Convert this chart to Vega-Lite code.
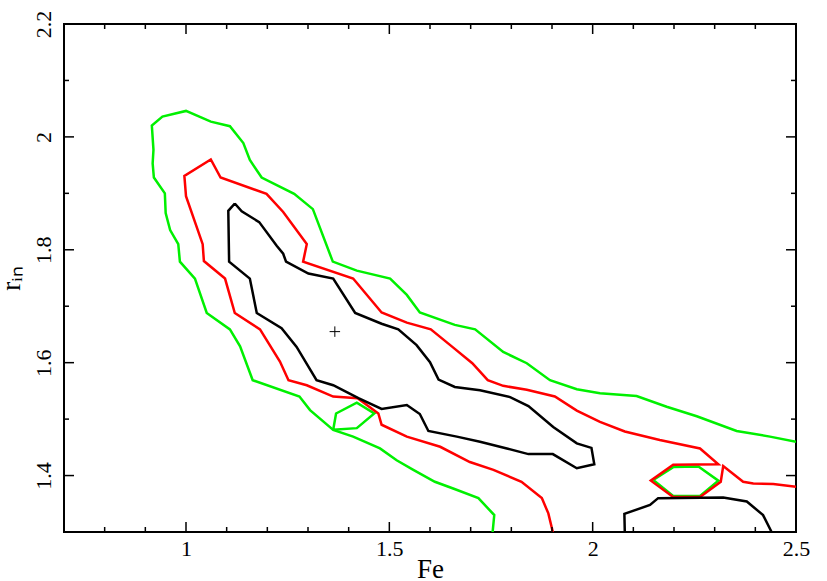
{
  "$schema": "https://vega.github.io/schema/vega-lite/v6.json",
  "width": 732,
  "height": 508,
  "autosize": {"type": "none"},
  "padding": {"left": 64, "top": 24, "right": 31, "bottom": 49},
  "background": "white",
  "config": {
    "view": {"stroke": "black", "strokeWidth": 2}
  },
  "datasets": {
    "best": [{"x": 1.366, "y": 1.655}],
    "xticks": [
      {"v": 0.8, "kind": "minor"}, {"v": 0.9, "kind": "minor"}, {"v": 1.0, "kind": "major"},
      {"v": 1.1, "kind": "minor"}, {"v": 1.2, "kind": "minor"}, {"v": 1.3, "kind": "minor"},
      {"v": 1.4, "kind": "minor"}, {"v": 1.5, "kind": "major"}, {"v": 1.6, "kind": "minor"},
      {"v": 1.7, "kind": "minor"}, {"v": 1.8, "kind": "minor"}, {"v": 1.9, "kind": "minor"},
      {"v": 2.0, "kind": "major"}, {"v": 2.1, "kind": "minor"}, {"v": 2.2, "kind": "minor"},
      {"v": 2.3, "kind": "minor"}, {"v": 2.4, "kind": "minor"}
    ],
    "yticks": [
      {"v": 1.4, "kind": "major"}, {"v": 1.5, "kind": "minor"}, {"v": 1.6, "kind": "major"},
      {"v": 1.7, "kind": "minor"}, {"v": 1.8, "kind": "major"}, {"v": 1.9, "kind": "minor"},
      {"v": 2.0, "kind": "major"}, {"v": 2.1, "kind": "minor"}
    ],
    "contours": [
      {"s": "g", "k": "green", "i": 0, "x": 1.754, "y": 1.300},
      {"s": "g", "k": "green", "i": 1, "x": 1.758, "y": 1.330},
      {"s": "g", "k": "green", "i": 2, "x": 1.719, "y": 1.360},
      {"s": "g", "k": "green", "i": 3, "x": 1.657, "y": 1.377},
      {"s": "g", "k": "green", "i": 4, "x": 1.612, "y": 1.389},
      {"s": "g", "k": "green", "i": 5, "x": 1.559, "y": 1.410},
      {"s": "g", "k": "green", "i": 6, "x": 1.518, "y": 1.427},
      {"s": "g", "k": "green", "i": 7, "x": 1.477, "y": 1.448},
      {"s": "g", "k": "green", "i": 8, "x": 1.411, "y": 1.469},
      {"s": "g", "k": "green", "i": 9, "x": 1.362, "y": 1.481},
      {"s": "g", "k": "green", "i": 10, "x": 1.305, "y": 1.516},
      {"s": "g", "k": "green", "i": 11, "x": 1.279, "y": 1.540},
      {"s": "g", "k": "green", "i": 12, "x": 1.164, "y": 1.569},
      {"s": "g", "k": "green", "i": 13, "x": 1.133, "y": 1.629},
      {"s": "g", "k": "green", "i": 14, "x": 1.108, "y": 1.659},
      {"s": "g", "k": "green", "i": 15, "x": 1.051, "y": 1.688},
      {"s": "g", "k": "green", "i": 16, "x": 1.022, "y": 1.749},
      {"s": "g", "k": "green", "i": 17, "x": 0.985, "y": 1.779},
      {"s": "g", "k": "green", "i": 18, "x": 0.981, "y": 1.810},
      {"s": "g", "k": "green", "i": 19, "x": 0.961, "y": 1.835},
      {"s": "g", "k": "green", "i": 20, "x": 0.950, "y": 1.865},
      {"s": "g", "k": "green", "i": 21, "x": 0.948, "y": 1.900},
      {"s": "g", "k": "green", "i": 22, "x": 0.921, "y": 1.928},
      {"s": "g", "k": "green", "i": 23, "x": 0.918, "y": 1.953},
      {"s": "g", "k": "green", "i": 24, "x": 0.920, "y": 1.977},
      {"s": "g", "k": "green", "i": 25, "x": 0.916, "y": 2.020},
      {"s": "g", "k": "green", "i": 26, "x": 0.942, "y": 2.036},
      {"s": "g", "k": "green", "i": 27, "x": 1.000, "y": 2.046},
      {"s": "g", "k": "green", "i": 28, "x": 1.061, "y": 2.027},
      {"s": "g", "k": "green", "i": 29, "x": 1.108, "y": 2.019},
      {"s": "g", "k": "green", "i": 30, "x": 1.141, "y": 1.989},
      {"s": "g", "k": "green", "i": 31, "x": 1.157, "y": 1.959},
      {"s": "g", "k": "green", "i": 32, "x": 1.186, "y": 1.928},
      {"s": "g", "k": "green", "i": 33, "x": 1.266, "y": 1.899},
      {"s": "g", "k": "green", "i": 34, "x": 1.312, "y": 1.872},
      {"s": "g", "k": "green", "i": 35, "x": 1.361, "y": 1.779},
      {"s": "g", "k": "green", "i": 36, "x": 1.420, "y": 1.763},
      {"s": "g", "k": "green", "i": 37, "x": 1.502, "y": 1.749},
      {"s": "g", "k": "green", "i": 38, "x": 1.543, "y": 1.720},
      {"s": "g", "k": "green", "i": 39, "x": 1.575, "y": 1.689},
      {"s": "g", "k": "green", "i": 40, "x": 1.661, "y": 1.667},
      {"s": "g", "k": "green", "i": 41, "x": 1.711, "y": 1.659},
      {"s": "g", "k": "green", "i": 42, "x": 1.780, "y": 1.619},
      {"s": "g", "k": "green", "i": 43, "x": 1.838, "y": 1.599},
      {"s": "g", "k": "green", "i": 44, "x": 1.895, "y": 1.569},
      {"s": "g", "k": "green", "i": 45, "x": 1.961, "y": 1.553},
      {"s": "g", "k": "green", "i": 46, "x": 2.018, "y": 1.546},
      {"s": "g", "k": "green", "i": 47, "x": 2.108, "y": 1.541},
      {"s": "g", "k": "green", "i": 48, "x": 2.182, "y": 1.522},
      {"s": "g", "k": "green", "i": 49, "x": 2.256, "y": 1.505},
      {"s": "g", "k": "green", "i": 50, "x": 2.354, "y": 1.479},
      {"s": "g", "k": "green", "i": 51, "x": 2.436, "y": 1.469},
      {"s": "g", "k": "green", "i": 52, "x": 2.500, "y": 1.460},

      {"s": "g2", "k": "green", "i": 0, "x": 1.362, "y": 1.481},
      {"s": "g2", "k": "green", "i": 1, "x": 1.369, "y": 1.510},
      {"s": "g2", "k": "green", "i": 2, "x": 1.420, "y": 1.529},
      {"s": "g2", "k": "green", "i": 3, "x": 1.463, "y": 1.510},
      {"s": "g2", "k": "green", "i": 4, "x": 1.420, "y": 1.484},
      {"s": "g2", "k": "green", "i": 5, "x": 1.362, "y": 1.481},

      {"s": "g3", "k": "green", "i": 0, "x": 2.149, "y": 1.392},
      {"s": "g3", "k": "green", "i": 1, "x": 2.198, "y": 1.415},
      {"s": "g3", "k": "green", "i": 2, "x": 2.260, "y": 1.416},
      {"s": "g3", "k": "green", "i": 3, "x": 2.309, "y": 1.391},
      {"s": "g3", "k": "green", "i": 4, "x": 2.264, "y": 1.364},
      {"s": "g3", "k": "green", "i": 5, "x": 2.198, "y": 1.364},
      {"s": "g3", "k": "green", "i": 6, "x": 2.149, "y": 1.392},

      {"s": "r", "k": "red", "i": 0, "x": 1.902, "y": 1.300},
      {"s": "r", "k": "red", "i": 1, "x": 1.891, "y": 1.333},
      {"s": "r", "k": "red", "i": 2, "x": 1.875, "y": 1.360},
      {"s": "r", "k": "red", "i": 3, "x": 1.825, "y": 1.389},
      {"s": "r", "k": "red", "i": 4, "x": 1.756, "y": 1.410},
      {"s": "r", "k": "red", "i": 5, "x": 1.698, "y": 1.424},
      {"s": "r", "k": "red", "i": 6, "x": 1.625, "y": 1.451},
      {"s": "r", "k": "red", "i": 7, "x": 1.543, "y": 1.469},
      {"s": "r", "k": "red", "i": 8, "x": 1.481, "y": 1.490},
      {"s": "r", "k": "red", "i": 9, "x": 1.473, "y": 1.510},
      {"s": "r", "k": "red", "i": 10, "x": 1.422, "y": 1.537},
      {"s": "r", "k": "red", "i": 11, "x": 1.362, "y": 1.540},
      {"s": "r", "k": "red", "i": 12, "x": 1.297, "y": 1.560},
      {"s": "r", "k": "red", "i": 13, "x": 1.252, "y": 1.569},
      {"s": "r", "k": "red", "i": 14, "x": 1.231, "y": 1.602},
      {"s": "r", "k": "red", "i": 15, "x": 1.182, "y": 1.659},
      {"s": "r", "k": "red", "i": 16, "x": 1.120, "y": 1.688},
      {"s": "r", "k": "red", "i": 17, "x": 1.096, "y": 1.749},
      {"s": "r", "k": "red", "i": 18, "x": 1.044, "y": 1.780},
      {"s": "r", "k": "red", "i": 19, "x": 1.041, "y": 1.810},
      {"s": "r", "k": "red", "i": 20, "x": 1.000, "y": 1.895},
      {"s": "r", "k": "red", "i": 21, "x": 0.996, "y": 1.931},
      {"s": "r", "k": "red", "i": 22, "x": 1.061, "y": 1.960},
      {"s": "r", "k": "red", "i": 23, "x": 1.085, "y": 1.928},
      {"s": "r", "k": "red", "i": 24, "x": 1.198, "y": 1.899},
      {"s": "r", "k": "red", "i": 25, "x": 1.239, "y": 1.867},
      {"s": "r", "k": "red", "i": 26, "x": 1.297, "y": 1.810},
      {"s": "r", "k": "red", "i": 27, "x": 1.288, "y": 1.779},
      {"s": "r", "k": "red", "i": 28, "x": 1.411, "y": 1.749},
      {"s": "r", "k": "red", "i": 29, "x": 1.481, "y": 1.689},
      {"s": "r", "k": "red", "i": 30, "x": 1.543, "y": 1.671},
      {"s": "r", "k": "red", "i": 31, "x": 1.602, "y": 1.659},
      {"s": "r", "k": "red", "i": 32, "x": 1.655, "y": 1.628},
      {"s": "r", "k": "red", "i": 33, "x": 1.704, "y": 1.599},
      {"s": "r", "k": "red", "i": 34, "x": 1.742, "y": 1.569},
      {"s": "r", "k": "red", "i": 35, "x": 1.780, "y": 1.559},
      {"s": "r", "k": "red", "i": 36, "x": 1.838, "y": 1.552},
      {"s": "r", "k": "red", "i": 37, "x": 1.907, "y": 1.540},
      {"s": "r", "k": "red", "i": 38, "x": 1.961, "y": 1.515},
      {"s": "r", "k": "red", "i": 39, "x": 2.018, "y": 1.495},
      {"s": "r", "k": "red", "i": 40, "x": 2.079, "y": 1.478},
      {"s": "r", "k": "red", "i": 41, "x": 2.165, "y": 1.463},
      {"s": "r", "k": "red", "i": 42, "x": 2.264, "y": 1.448},
      {"s": "r", "k": "red", "i": 43, "x": 2.309, "y": 1.420},
      {"s": "r", "k": "red", "i": 44, "x": 2.198, "y": 1.419},
      {"s": "r", "k": "red", "i": 45, "x": 2.143, "y": 1.391},
      {"s": "r", "k": "red", "i": 46, "x": 2.198, "y": 1.362},
      {"s": "r", "k": "red", "i": 47, "x": 2.264, "y": 1.362},
      {"s": "r", "k": "red", "i": 48, "x": 2.315, "y": 1.389},
      {"s": "r", "k": "red", "i": 49, "x": 2.321, "y": 1.417},
      {"s": "r", "k": "red", "i": 50, "x": 2.370, "y": 1.389},
      {"s": "r", "k": "red", "i": 51, "x": 2.395, "y": 1.386},
      {"s": "r", "k": "red", "i": 52, "x": 2.444, "y": 1.385},
      {"s": "r", "k": "red", "i": 53, "x": 2.500, "y": 1.380},

      {"s": "b", "k": "black", "i": 0, "x": 1.120, "y": 1.882},
      {"s": "b", "k": "black", "i": 1, "x": 1.104, "y": 1.869},
      {"s": "b", "k": "black", "i": 2, "x": 1.106, "y": 1.779},
      {"s": "b", "k": "black", "i": 3, "x": 1.157, "y": 1.749},
      {"s": "b", "k": "black", "i": 4, "x": 1.174, "y": 1.688},
      {"s": "b", "k": "black", "i": 5, "x": 1.235, "y": 1.661},
      {"s": "b", "k": "black", "i": 6, "x": 1.272, "y": 1.628},
      {"s": "b", "k": "black", "i": 7, "x": 1.321, "y": 1.569},
      {"s": "b", "k": "black", "i": 8, "x": 1.362, "y": 1.560},
      {"s": "b", "k": "black", "i": 9, "x": 1.424, "y": 1.537},
      {"s": "b", "k": "black", "i": 10, "x": 1.481, "y": 1.518},
      {"s": "b", "k": "black", "i": 11, "x": 1.543, "y": 1.525},
      {"s": "b", "k": "black", "i": 12, "x": 1.575, "y": 1.509},
      {"s": "b", "k": "black", "i": 13, "x": 1.596, "y": 1.479},
      {"s": "b", "k": "black", "i": 14, "x": 1.666, "y": 1.469},
      {"s": "b", "k": "black", "i": 15, "x": 1.723, "y": 1.460},
      {"s": "b", "k": "black", "i": 16, "x": 1.789, "y": 1.448},
      {"s": "b", "k": "black", "i": 17, "x": 1.842, "y": 1.438},
      {"s": "b", "k": "black", "i": 18, "x": 1.902, "y": 1.438},
      {"s": "b", "k": "black", "i": 19, "x": 1.961, "y": 1.413},
      {"s": "b", "k": "black", "i": 20, "x": 2.004, "y": 1.420},
      {"s": "b", "k": "black", "i": 21, "x": 1.997, "y": 1.449},
      {"s": "b", "k": "black", "i": 22, "x": 1.961, "y": 1.457},
      {"s": "b", "k": "black", "i": 23, "x": 1.903, "y": 1.486},
      {"s": "b", "k": "black", "i": 24, "x": 1.842, "y": 1.523},
      {"s": "b", "k": "black", "i": 25, "x": 1.797, "y": 1.539},
      {"s": "b", "k": "black", "i": 26, "x": 1.723, "y": 1.551},
      {"s": "b", "k": "black", "i": 27, "x": 1.661, "y": 1.557},
      {"s": "b", "k": "black", "i": 28, "x": 1.621, "y": 1.570},
      {"s": "b", "k": "black", "i": 29, "x": 1.600, "y": 1.601},
      {"s": "b", "k": "black", "i": 30, "x": 1.567, "y": 1.631},
      {"s": "b", "k": "black", "i": 31, "x": 1.522, "y": 1.659},
      {"s": "b", "k": "black", "i": 32, "x": 1.481, "y": 1.669},
      {"s": "b", "k": "black", "i": 33, "x": 1.416, "y": 1.688},
      {"s": "b", "k": "black", "i": 34, "x": 1.362, "y": 1.749},
      {"s": "b", "k": "black", "i": 35, "x": 1.301, "y": 1.758},
      {"s": "b", "k": "black", "i": 36, "x": 1.246, "y": 1.779},
      {"s": "b", "k": "black", "i": 37, "x": 1.239, "y": 1.793},
      {"s": "b", "k": "black", "i": 38, "x": 1.223, "y": 1.807},
      {"s": "b", "k": "black", "i": 39, "x": 1.180, "y": 1.849},
      {"s": "b", "k": "black", "i": 40, "x": 1.137, "y": 1.868},
      {"s": "b", "k": "black", "i": 41, "x": 1.120, "y": 1.882},

      {"s": "b2", "k": "black", "i": 0, "x": 2.079, "y": 1.300},
      {"s": "b2", "k": "black", "i": 1, "x": 2.078, "y": 1.332},
      {"s": "b2", "k": "black", "i": 2, "x": 2.141, "y": 1.348},
      {"s": "b2", "k": "black", "i": 3, "x": 2.161, "y": 1.360},
      {"s": "b2", "k": "black", "i": 4, "x": 2.321, "y": 1.361},
      {"s": "b2", "k": "black", "i": 5, "x": 2.379, "y": 1.354},
      {"s": "b2", "k": "black", "i": 6, "x": 2.419, "y": 1.330},
      {"s": "b2", "k": "black", "i": 7, "x": 2.440, "y": 1.300}
    ]
  },
  "layer": [
    {
      "data": {"name": "contours"},
      "mark": {"type": "line", "strokeWidth": 2.5, "clip": true, "strokeJoin": "miter"},
      "encoding": {
        "x": {"field": "x", "type": "quantitative", "scale": {"domain": [0.7, 2.5], "nice": false, "zero": false},
          "axis": {"orient": "bottom", "values": [1, 1.5, 2, 2.5], "format": "~g", "domain": false, "grid": false, "ticks": false,
            "labelFont": "Liberation Serif", "labelFontSize": 22, "labelColor": "black", "labelPadding": 6, "labelFlush": false, "labelOverlap": false,
            "title": "Fe", "titleFont": "Liberation Serif", "titleFontSize": 27, "titleFontWeight": "normal", "titleColor": "black", "titlePadding": 18, "titleBaseline": "alphabetic"}},
        "y": {"field": "y", "type": "quantitative", "scale": {"domain": [1.3, 2.2], "nice": false, "zero": false},
          "axis": {"orient": "left", "values": [1.4, 1.6, 1.8, 2, 2.2], "format": "~g", "domain": false, "grid": false, "ticks": false,
            "labelFont": "Liberation Serif", "labelFontSize": 22, "labelColor": "black", "labelAngle": -90, "labelAlign": "center", "labelBaseline": "alphabetic", "labelPadding": 14, "labelFlush": false, "labelOverlap": false,
            "title": "rᵢₙ", "titleFont": "Liberation Serif", "titleFontSize": 27, "titleFontWeight": "normal", "titleColor": "black", "titlePadding": 13, "titleBaseline": "alphabetic"}},
        "detail": {"field": "s", "type": "nominal"},
        "order": {"field": "i", "type": "quantitative"},
        "color": {"field": "k", "type": "nominal", "legend": null,
          "scale": {"domain": ["red", "green", "black"], "range": ["#ff0000", "#00f000", "#000000"]}}
      }
    },
    {
      "data": {"name": "xticks"},
      "mark": {"type": "tick", "orient": "vertical", "thickness": 1.5, "color": "black", "opacity": 1, "clip": true},
      "encoding": {
        "x": {"field": "v", "type": "quantitative"},
        "y": {"datum": 1.3, "type": "quantitative"},
        "size": {"field": "kind", "type": "nominal", "legend": null, "scale": {"domain": ["major", "minor"], "range": [20, 10]}}
      }
    },
    {
      "data": {"name": "xticks"},
      "mark": {"type": "tick", "orient": "vertical", "thickness": 1.5, "color": "black", "opacity": 1, "clip": true},
      "encoding": {
        "x": {"field": "v", "type": "quantitative"},
        "y": {"datum": 2.2, "type": "quantitative"},
        "size": {"field": "kind", "type": "nominal", "legend": null, "scale": {"domain": ["major", "minor"], "range": [20, 10]}}
      }
    },
    {
      "data": {"name": "yticks"},
      "mark": {"type": "tick", "orient": "horizontal", "thickness": 1.5, "color": "black", "opacity": 1, "clip": true},
      "encoding": {
        "y": {"field": "v", "type": "quantitative"},
        "x": {"datum": 0.7, "type": "quantitative"},
        "size": {"field": "kind", "type": "nominal", "legend": null, "scale": {"domain": ["major", "minor"], "range": [20, 10]}}
      }
    },
    {
      "data": {"name": "yticks"},
      "mark": {"type": "tick", "orient": "horizontal", "thickness": 1.5, "color": "black", "opacity": 1, "clip": true},
      "encoding": {
        "y": {"field": "v", "type": "quantitative"},
        "x": {"datum": 2.5, "type": "quantitative"},
        "size": {"field": "kind", "type": "nominal", "legend": null, "scale": {"domain": ["major", "minor"], "range": [20, 10]}}
      }
    },
    {
      "data": {"name": "best"},
      "mark": {"type": "point", "shape": "M-1,0L1,0M0,-1L0,1", "size": 110, "filled": false, "stroke": "black", "strokeWidth": 1, "opacity": 1},
      "encoding": {
        "x": {"field": "x", "type": "quantitative"},
        "y": {"field": "y", "type": "quantitative"}
      }
    }
  ]
}
